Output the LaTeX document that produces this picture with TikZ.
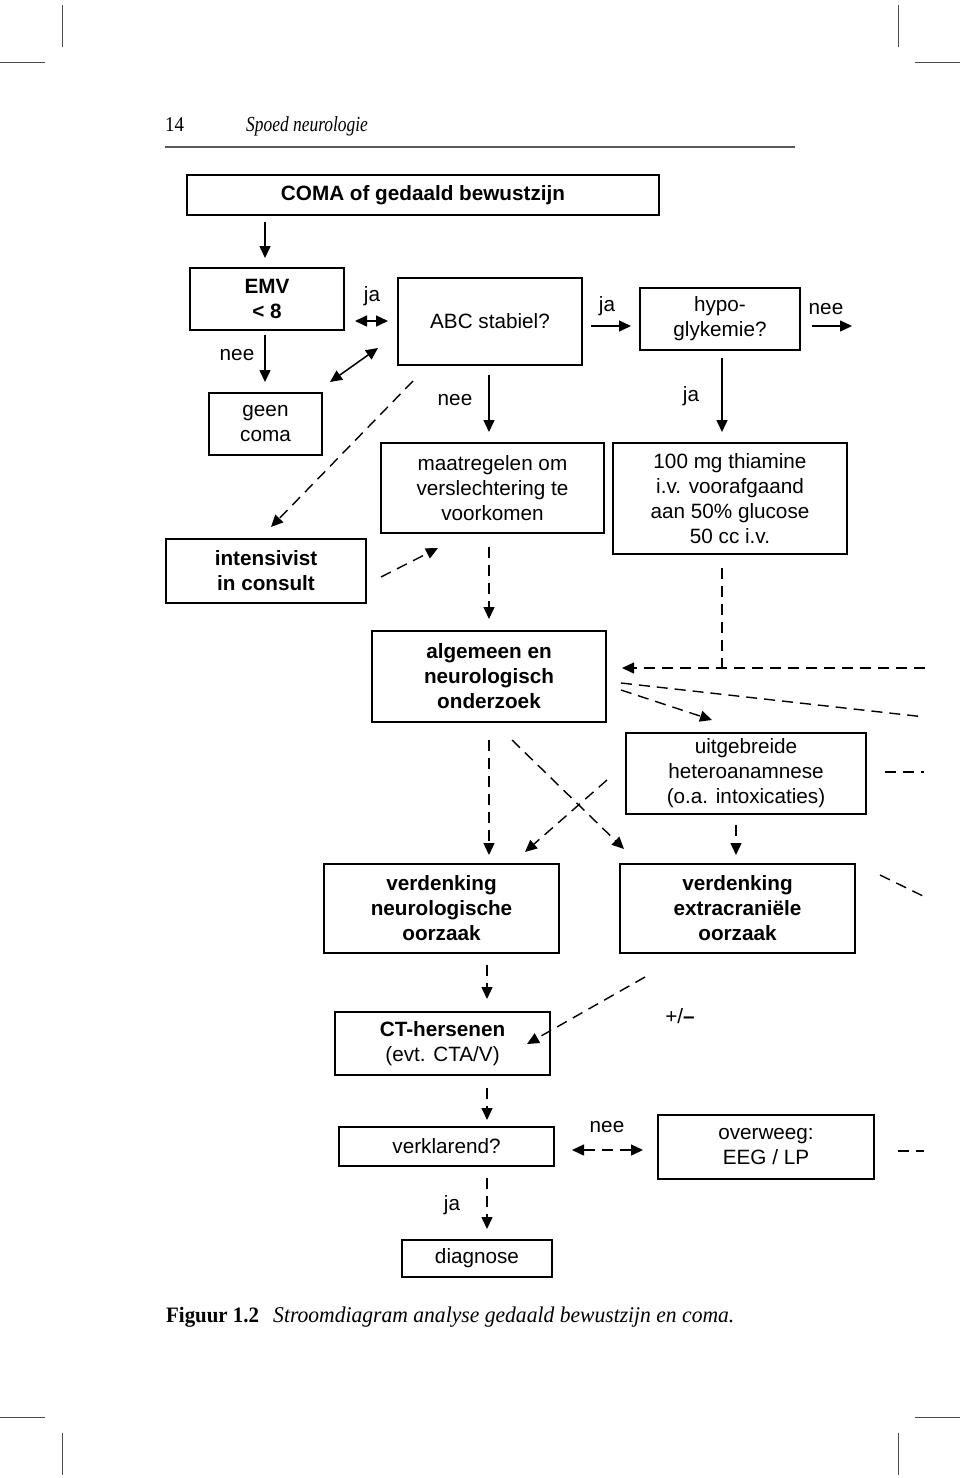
\documentclass[tikz,border=0pt]{standalone}
\usepackage{fontspec}
\usepackage{graphicx}
\setmainfont{Liberation Sans}
\newfontfamily\capserif{Liberation Serif}
\usetikzlibrary{arrows.meta}
\begin{document}
\begin{tikzpicture}[x=1pt,y=-1pt,
  box/.style={draw, line width=1.6pt, inner sep=0pt, align=center, font=\fontsize{20.7}{25}\selectfont},
  bbox/.style={box, font=\fontsize{20.7}{25}\selectfont\bfseries},
  lbl/.style={inner sep=0pt, font=\fontsize{20.7}{25}\selectfont},
  tip/.style={-{Triangle[length=12pt,width=11pt]}},
  arr/.style={line width=1.5pt, tip},
  darr/.style={line width=1.5pt, {Triangle[length=12pt,width=11pt]}-{Triangle[length=12pt,width=11pt]}},
  dsh/.style={line width=1.4pt, dash pattern=on 11pt off 7pt},
  crop/.style={line width=0.9pt, draw=black!70},
]
\useasboundingbox (0,0) rectangle (960,1478);

% crop marks
\draw[crop] (62,5) -- (62,47);
\draw[crop] (898,5) -- (898,47);
\draw[crop] (0,62) -- (45,62);
\draw[crop] (915,62) -- (960,62);
\draw[crop] (0,1417) -- (45,1417);
\draw[crop] (915,1417) -- (960,1417);
\draw[crop] (62,1433) -- (62,1475);
\draw[crop] (898,1433) -- (898,1475);

% header
\node[anchor=base west, inner sep=0pt, font=\capserif\fontsize{21}{24}\selectfont] (pg) at (165,131) {\scalebox{0.9}[1]{14}};
\node[anchor=base west, inner sep=0pt, font=\capserif\itshape\fontsize{21.5}{24}\selectfont] (hd) at (246,131) {\scalebox{0.81}[1]{Spoed neurologie}};
\draw[line width=1.6pt, draw=black!65] (165,147) -- (795,147);

% boxes
\node[bbox, minimum width=472pt, minimum height=40pt] (coma) at (423,195) {COMA of gedaald bewustzijn};
\node[bbox, minimum width=154pt, minimum height=62pt] (emv) at (267,299) {EMV\\< 8};
\node[box, minimum width=113pt, minimum height=62pt] (geen) at (265.5,424) {geen\\coma};
\node[box, minimum width=184pt, minimum height=87pt] (abc) at (490,321.5) {ABC stabiel?};
\node[box, minimum width=160pt, minimum height=62pt] (hypo) at (720,319) {hypo-\\glykemie?};
\node[box, minimum width=234pt, minimum height=111pt] (thia) at (730,498.5) {100 mg thiamine\\i.v. voorafgaand\\aan 50\% glucose\\50 cc i.v.};
\node[box, minimum width=223pt, minimum height=90pt] (maat) at (492.5,488) {maatregelen om\\verslechtering te\\voorkomen};
\node[bbox, minimum width=200pt, minimum height=64pt] (int) at (266,571) {intensivist\\in consult};
\node[bbox, minimum width=234pt, minimum height=91pt] (alg) at (489,676.5) {algemeen en\\neurologisch\\onderzoek};
\node[box, minimum width=240pt, minimum height=81pt] (uit) at (746,773.5) {uitgebreide\\heteroanamnese\\(o.a. intoxicaties)};
\node[bbox, minimum width=235pt, minimum height=89pt] (vn) at (441.5,908.5) {verdenking\\neurologische\\oorzaak};
\node[bbox, minimum width=235pt, minimum height=89pt] (ve) at (737.5,908.5) {verdenking\\extracraniële\\oorzaak};
\node[box, minimum width=215pt, minimum height=63pt] (ct) at (442.5,1043.5) {\textbf{CT-hersenen}\\(evt. CTA/V)};
\node[box, minimum width=215pt, minimum height=39pt] (verk) at (446.5,1146.5) {verklarend?};
\node[box, minimum width=216pt, minimum height=64pt] (over) at (766,1147) {overweeg:\\EEG / LP};
\node[box, minimum width=150pt, minimum height=37pt] (diag) at (477,1258.5) {diagnose};

% labels
\node[lbl] (l1) at (237,355) {nee};
\node[lbl] (l2) at (372,296) {ja};
\node[lbl] (l3) at (607,306) {ja};
\node[lbl] (l4) at (826,309) {nee};
\node[lbl] (l5) at (691,396) {ja};
\node[lbl] (l6) at (455,400) {nee};
\node[lbl] (l7) at (680,1016) {+/\textbf{--}};
\node[lbl] (l8) at (607,1127) {nee};
\node[lbl] (l9) at (452,1205) {ja};

% coordinates for free ends
\coordinate (e1) at (852,326);
\coordinate (d1) at (330,382);
\coordinate (d2) at (378,348);
\coordinate (a1) at (413,381);
\coordinate (a2) at (271,527);
\coordinate (b1) at (381,577);
\coordinate (b2) at (438,548);
\coordinate (r1) at (925,668);
\coordinate (r2) at (722,668);
\coordinate (r3) at (622,668);
\coordinate (s1) at (621,683);
\coordinate (s2) at (925,717);
\coordinate (s3) at (621,690);
\coordinate (s4) at (712,720);
\coordinate (f1) at (885,772);
\coordinate (f2) at (924,772);
\coordinate (f3) at (880,875);
\coordinate (f4) at (923,896);
\coordinate (f5) at (898,1151);
\coordinate (f6) at (924,1151);
\coordinate (x1) at (512,740);
\coordinate (x2) at (624,849);
\coordinate (y1) at (607,780);
\coordinate (y2) at (525,852);
\coordinate (p1) at (645,977);
\coordinate (p2) at (527,1044);

% solid connectors
\draw[arr] (265,222) -- (265,258);
\draw[arr] (265,335) -- (265,382);
\draw[darr] (355,321) -- (388,321);
\draw[darr] (d1) -- (d2);
\draw[arr] (591,326) -- (631,326);
\draw[arr] (812,326) -- (e1);
\draw[arr] (722,358) -- (722,432);
\draw[arr] (489,375) -- (489,432);

% dashed connectors
\draw[dsh, tip] (a1) -- (a2);
\draw[dsh, tip] (b1) -- (b2);
\draw[dsh, tip] (489,547) -- (489,619);
\draw[dsh] (722,568) -- (r2);
\draw[dsh, tip] (r1) -- (r3);
\draw[dsh] (s1) -- (s2);
\draw[dsh, tip] (s3) -- (s4);
\draw[dsh] (f1) -- (f2);
\draw[dsh] (f3) -- (f4);
\draw[dsh] (f5) -- (f6);
\draw[dsh, tip] (489,740) -- (489,855);
\draw[dsh, tip] (x1) -- (x2);
\draw[dsh, tip] (y1) -- (y2);
\draw[dsh, tip] (736,825) -- (736,855);
\draw[dsh, tip] (487,965) -- (487,999);
\draw[dsh, tip] (p1) -- (p2);
\draw[dsh, tip] (487,1088) -- (487,1120);
\draw[dsh, {Triangle[length=12pt,width=11pt]}-{Triangle[length=12pt,width=11pt]}] (572,1150) -- (643,1150);
\draw[dsh, tip] (487,1178) -- (487,1229);

% caption
\node[anchor=base west, inner sep=0pt, font=\capserif\bfseries\fontsize{22}{24}\selectfont] (fig) at (166,1322) {\scalebox{0.95}[1]{Figuur 1.2}};
\node[anchor=base west, inner sep=0pt, font=\capserif\itshape\fontsize{22.5}{24}\selectfont] (cap) at (273,1322) {\scalebox{0.96}[1]{Stroomdiagram analyse gedaald bewustzijn en coma.}};
\end{tikzpicture}
\end{document}
